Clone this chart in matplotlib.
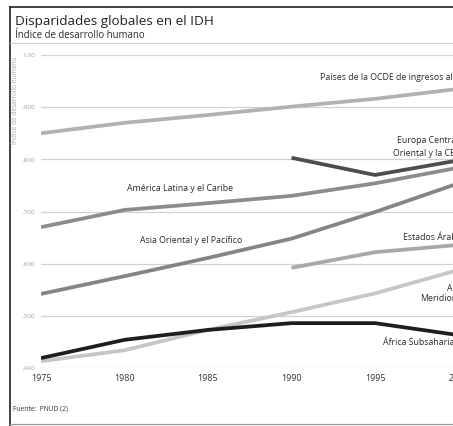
import matplotlib
matplotlib.use('Agg')
import matplotlib.pyplot as plt
from matplotlib.lines import Line2D
from matplotlib.ticker import FuncFormatter

plt.rcParams['font.family'] = ['Open Sans', 'DejaVu Sans']

years = [1975, 1980, 1985, 1990, 1995, 2000]
years_90 = [1990, 1995, 2000]

ocde = [0.850, 0.870, 0.885, 0.901, 0.916, 0.935]
latam = [0.670, 0.703, 0.716, 0.730, 0.754, 0.784]
asia_or = [0.542, 0.576, 0.611, 0.648, 0.699, 0.754]
asia_mer = [0.413, 0.434, 0.473, 0.507, 0.543, 0.588]
africa = [0.419, 0.454, 0.473, 0.486, 0.486, 0.463]
europa = [0.803, 0.770, 0.798]
arabes = [0.592, 0.622, 0.636]

yticks = [0.4, 0.5, 0.6, 0.7, 0.8, 0.9, 1.0]
xticks = [1975, 1980, 1985, 1990, 1995, 2000, 2005]

W, H = 453, 426
fig = plt.figure(figsize=(W / 100, H / 100), dpi=100)

# axes run past the right edge of the figure, like the cropped original
ax = fig.add_axes([41 / W, (H - 368) / H, 501 / W, 313 / H])
ax.set_xlim(1975, 2005)
ax.set_ylim(0.4, 1.0)

for v in yticks:
    ax.axhline(v, color='#d2d2d2', lw=0.9, zorder=0)

lw = 2.7
ax.plot(years, ocde, color='#b2b2b2', lw=lw, solid_capstyle='butt')
ax.plot(years_90, europa, color='#4d4d4d', lw=lw, solid_capstyle='butt')
ax.plot(years, latam, color='#8c8c8c', lw=lw, solid_capstyle='butt')
ax.plot(years, asia_or, color='#858585', lw=lw, solid_capstyle='butt')
ax.plot(years_90, arabes, color='#a8a8a8', lw=lw, solid_capstyle='butt')
ax.plot(years, asia_mer, color='#c6c6c6', lw=lw, solid_capstyle='butt')
ax.plot(years, africa, color='#1e1e1e', lw=lw, solid_capstyle='butt')

lab = dict(fontsize=6.3, color='#2a2a2a', va='center')
ax.text(1991.7, 0.956, 'Países de la OCDE de ingresos altos', ha='left', **lab)
ax.text(1996.3, 0.837, 'Europa Central y', ha='left', **lab)
ax.text(1996.1, 0.812, 'Oriental y la CEI', ha='left', **lab)
ax.text(1980.15, 0.745, 'América Latina y el Caribe', ha='left', **lab)
ax.text(1980.9, 0.645, 'Asia Oriental y el Pacífico', ha='left', **lab)
ax.text(1996.7, 0.651, 'Estados Árabes', ha='left', **lab)
ax.text(2000.35, 0.542, 'Asia\nMeridional', ha='right',
        multialignment='right', linespacing=1.15, **lab)
ax.text(1995.5, 0.448, 'África Subsahariana', ha='left', **lab)


def fmt(v, pos):
    if v >= 0.999:
        return '1,00'
    return ',' + f'{v:.3f}'.split('.')[1]


ax.set_yticks(yticks)
ax.yaxis.set_major_formatter(FuncFormatter(fmt))
ax.set_xticks(xticks)
ax.tick_params(axis='y', length=0, pad=4, labelsize=4.6, labelcolor='#a0a0a0')
ax.tick_params(axis='x', length=0, pad=4, labelsize=6.4, labelcolor='#333333')
for s in ax.spines.values():
    s.set_visible(False)

fig.text(15 / W, 1 - 22 / H, 'Disparidades globales en el IDH', fontsize=9.7,
         color='#222222', va='center')
fig.text(15 / W, 1 - 35 / H, 'Índice de desarrollo humano', fontsize=6.9,
         color='#2a2a2a', va='center')
fig.text(16 / W, 1 - 100 / H, 'Índice de desarrollo humano', fontsize=4.7,
         color='#a8a8a8', rotation=90, ha='center', va='center')
fig.text(13 / W, 1 - 409 / H, 'Fuente:  PNUD (2)', fontsize=4.8,
         color='#333333', va='center')

# frame and separator
fig.add_artist(Line2D([10 / W, 1], [1 - 7 / H, 1 - 7 / H], color='#222222', lw=1.2))
fig.add_artist(Line2D([10 / W, 10 / W], [0, 1 - 7 / H], color='#222222', lw=1.2))
fig.add_artist(Line2D([10 / W, 1], [1 - 43 / H, 1 - 43 / H], color='#cccccc', lw=0.8))
fig.add_artist(Line2D([10 / W, 1], [2 / H, 2 / H], color='#999999', lw=0.9))

fig.savefig('out.png', dpi=100)
